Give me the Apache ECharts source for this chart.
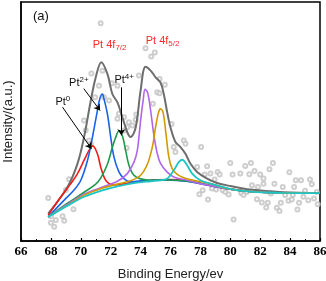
<!DOCTYPE html>
<html>
<head>
<meta charset="utf-8">
<script src="https://cdn.jsdelivr.net/npm/echarts@6/dist/echarts.min.js"></script>
<style>
  html, body { margin: 0; padding: 0; background: #fff; }
  #chart { width: 326px; height: 281px; }
</style>
</head>
<body>
<div id="chart"></div>
<script>
// binding energy (eV) vs intensity (a.u., arbitrary 0-100 scale)
const xTicks = [66, 68, 70, 72, 74, 76, 78, 80, 82, 84, 86];

const envelope = [
  [67.82, 11.5], [69.11, 22.6], [69.78, 32.4], [70.22, 43.5], [70.67, 58.8], [71.0, 68.5],
  [71.37, 74.8], [71.78, 69.9], [72.11, 61.5], [72.45, 58.0], [72.78, 51.8], [73.11, 45.5],
  [73.33, 43.5], [73.67, 47.5], [74.0, 62.9], [74.33, 72.9], [74.67, 71.3], [75.0, 68.5],
  [75.33, 66.3], [75.55, 61.5], [75.78, 53.8], [76.0, 47.5], [76.33, 41.4], [76.67, 39.3],
  [77.0, 36.5], [77.33, 32.4], [77.78, 28.9], [78.45, 26.1], [79.11, 24.3], [80.0, 23.0],
  [81.33, 21.5], [83.55, 20.4], [86.0, 20.1]
];

const pt0 = [
  [67.82, 10.8], [68.67, 18.5], [69.33, 24.0], [69.78, 28.2], [70.22, 33.8], [70.55, 37.9],
  [70.8, 39.8], [71.11, 36.5], [71.33, 31.0], [71.6, 26.1], [71.89, 24.0], [72.33, 23.5],
  [73.0, 24.0], [74.0, 24.9], [75.0, 25.6], [76.0, 25.7], [77.0, 25.3], [78.0, 24.2],
  [79.11, 22.7], [80.22, 21.5], [81.33, 20.7], [82.44, 20.3], [83.55, 20.1], [86.0, 20.0]
];

const pt2 = [
  [67.82, 10.1], [68.89, 17.1], [69.55, 21.3], [70.0, 25.4], [70.45, 33.8], [70.78, 43.5],
  [71.07, 53.2], [71.27, 59.5], [71.45, 61.5], [71.55, 59.5], [71.78, 53.2], [72.0, 43.5],
  [72.22, 35.1], [72.55, 28.9], [72.89, 26.1], [73.33, 24.7], [74.0, 25.2], [75.0, 25.4],
  [76.0, 25.4], [77.0, 25.0], [78.0, 24.0], [79.11, 22.6], [80.22, 21.5], [81.33, 20.7],
  [82.44, 20.3], [83.55, 20.1], [86.0, 20.0]
];

const pt4 = [
  [67.82, 10.1], [69.11, 15.8], [70.22, 20.4], [71.0, 23.8], [71.33, 26.3], [71.78, 32.1],
  [72.11, 39.2], [72.33, 43.3], [72.55, 46.0], [72.78, 44.0], [73.0, 37.9], [73.22, 31.7],
  [73.55, 27.5], [74.0, 26.0], [74.67, 25.4], [75.78, 25.5], [76.89, 25.2], [78.0, 24.1],
  [79.11, 22.6], [80.22, 21.5], [81.33, 20.7], [82.44, 20.3], [83.55, 20.1], [86.0, 20.0]
];

const pt52a = [
  [67.82, 10.1], [69.11, 15.4], [70.22, 19.6], [71.33, 22.3], [72.45, 25.0], [73.11, 28.2],
  [73.55, 32.9], [73.78, 37.9], [74.0, 50.4], [74.17, 58.8], [74.3, 63.5], [74.47, 62.1],
  [74.67, 54.6], [74.89, 44.2], [75.11, 36.7], [75.33, 32.5], [75.78, 28.8], [76.22, 26.8],
  [77.11, 25.4], [78.0, 24.0], [79.11, 22.6], [80.22, 21.5], [81.33, 20.7], [82.44, 20.3],
  [83.55, 20.1], [86.0, 20.0]
];

const pt52b = [
  [67.82, 10.1], [69.11, 15.0], [70.22, 19.2], [71.33, 21.9], [72.45, 23.8], [73.33, 25.2],
  [74.0, 27.5], [74.45, 32.1], [74.78, 39.2], [75.0, 47.5], [75.2, 53.8], [75.33, 55.3],
  [75.5, 53.8], [75.67, 46.3], [75.89, 35.1], [76.11, 30.3], [76.45, 27.9], [76.89, 26.5],
  [77.55, 25.4], [78.67, 24.0], [79.5, 22.4], [80.22, 21.5], [81.33, 20.7], [82.44, 20.3],
  [83.55, 20.1], [86.0, 20.0]
];

const pt52c = [
  [67.82, 10.0], [69.11, 14.8], [70.22, 18.5], [71.33, 21.0], [72.45, 22.9], [73.55, 24.2],
  [74.67, 25.0], [75.33, 25.4], [75.78, 26.1], [76.22, 29.6], [76.55, 33.0], [76.78, 34.0],
  [77.11, 31.7], [77.45, 28.2], [78.0, 25.4], [79.11, 23.3], [80.22, 21.5], [81.33, 20.7],
  [82.44, 20.3], [83.55, 20.1], [86.0, 20.0]
];

const raw = [
  [67.82, 18.0], [68.0, 10.4], [68.0, 7.6], [68.22, 6.0], [68.33, 8.75], [68.78, 10.4],
  [68.89, 8.5], [69.0, 21.3], [69.22, 25.8], [69.51, 13.3], [70.22, 50.4], [70.33, 46.3],
  [70.55, 42.1], [70.67, 40.7], [70.71, 70.1], [70.95, 60.1], [71.22, 65.0], [71.33, 91.1],
  [71.45, 71.25], [71.55, 60.1], [71.89, 58.75], [72.07, 66.0], [72.45, 65.0], [72.55, 53.2],
  [72.89, 51.8], [72.45, 51.1], [73.22, 49.7], [73.45, 48.3], [73.11, 47.6], [73.71, 52.9],
  [73.67, 50.7], [72.89, 46.25], [73.07, 38.9], [73.89, 69.2], [74.33, 80.7], [74.95, 78.9],
  [74.71, 77.2], [75.27, 67.8], [75.62, 65.4], [75.11, 62.2], [75.27, 61.8], [74.82, 57.4],
  [76.07, 49.0], [76.22, 39.3], [76.33, 37.2], [76.89, 42.1], [77.0, 40.7], [78.05, 39.3],
  [77.78, 31.0], [78.45, 31.25], [78.67, 28.2], [78.29, 27.8], [79.15, 28.9], [79.29, 27.8],
  [78.95, 25.7], [80.0, 32.6], [78.15, 21.25], [77.93, 19.6], [78.51, 17.4], [78.78, 22.0],
  [79.05, 21.5], [79.49, 21.25], [79.67, 20.5], [79.89, 19.5], [80.15, 27.8], [80.22, 9.0],
  [81.0, 31.4], [81.38, 32.6], [81.62, 29.3], [81.27, 27.9], [80.67, 28.2], [82.0, 27.8],
  [82.22, 26.1], [82.62, 30.0], [82.85, 32.6], [82.95, 24.0], [83.95, 28.75], [84.38, 25.4],
  [84.73, 25.4], [85.33, 25.7], [85.45, 23.75], [84.27, 22.6], [83.51, 22.6], [85.0, 21.0],
  [80.73, 20.1], [80.89, 19.2], [81.11, 20.5], [81.45, 23.3], [81.85, 22.6], [82.22, 24.0],
  [82.71, 19.9], [83.67, 19.2], [84.18, 19.2], [81.78, 17.5], [82.11, 16.1], [82.51, 16.0],
  [82.4, 14.0], [83.11, 13.9], [83.29, 12.6], [83.38, 16.0], [83.89, 16.8], [84.11, 17.4],
  [84.6, 16.0], [84.49, 13.2], [84.89, 18.5], [85.22, 17.1], [85.6, 17.8], [85.78, 20.5],
  [85.85, 15.4]
];

// annotation anchors (data coords)
const arrows = [
  [[68.78, 56.0], [70.71, 38.6]],
  [[70.2, 63.75], [71.29, 54.6]],
  [[72.71, 64.3], [72.71, 44.2]]
];
const labels = [
  { coord: [71.93, 82.0], text: 'Pt 4f{sub|7/2}', color: '#ff2a2a' },
  { coord: [75.47, 83.4], text: 'Pt 4f{sub|5/2}', color: '#ff2a2a' },
  { coord: [69.87, 65.8], text: 'Pt{sup|2+}', color: '#111' },
  { coord: [72.9, 67.1], text: 'Pt{sup|4+}', color: '#111' },
  { coord: [68.8, 57.9], text: 'Pt{sup|0}', color: '#111' }
];

const chart = echarts.init(document.getElementById('chart'), null, { renderer: 'canvas' });

const lineSeries = (name, data, color, width) => ({
  name,
  type: 'line',
  data,
  smooth: 0.35,
  symbol: 'none',
  lineStyle: { color, width },
  z: 3
});

chart.setOption({
  animation: false,
  title: {
    text: '(a)',
    left: 28,
    top: 5,
    textStyle: { fontFamily: 'Liberation Sans', fontSize: 13, fontWeight: 'normal', color: '#111' }
  },
  grid: {
    left: 21, right: 6, top: 2, bottom: 40,
    outerBoundsMode: 'none',
    containLabel: false,
    show: true, borderColor: '#000', borderWidth: 1.5
  },
  xAxis: {
    type: 'value',
    min: 66, max: 86, interval: 2,
    name: 'Binding Energy/ev',
    nameLocation: 'middle',
    nameGap: 27,
    nameTextStyle: { fontFamily: 'Liberation Sans', fontSize: 13, color: '#222' },
    axisLine: { show: true, lineStyle: { color: '#000', width: 1.5 } },
    axisTick: { show: true, inside: true, length: 3, lineStyle: { color: '#000', width: 1.2 } },
    minorTick: { show: true, splitNumber: 2, length: 2, lineStyle: { color: '#000', width: 1 } },
    axisLabel: {
      fontFamily: 'Liberation Serif', fontWeight: 'bold', fontSize: 13, color: '#000', margin: 4,
      formatter: v => xTicks.includes(v) ? String(v) : ''
    },
    splitLine: { show: false }
  },
  yAxis: {
    type: 'value',
    min: 0, max: 100,
    name: 'Intensity/(a.u.)',
    nameLocation: 'middle',
    nameGap: 6,
    nameTextStyle: { fontFamily: 'Liberation Sans', fontSize: 13, color: '#222' },
    axisLine: { show: true, lineStyle: { color: '#000', width: 1.5 } },
    axisTick: { show: false },
    axisLabel: { show: false },
    splitLine: { show: false }
  },
  series: [
    {
      name: 'raw',
      type: 'scatter',
      data: raw,
      symbol: 'emptyCircle',
      symbolSize: 4,
      itemStyle: { color: '#c2c2c2', borderWidth: 0.9 },
      z: 2,
      markLine: {
        silent: true,
        symbol: ['none', 'arrow'],
        symbolSize: 6,
        label: { show: false },
        lineStyle: { color: '#000', width: 1, type: 'solid' },
        data: arrows.map(a => [{ coord: a[0] }, { coord: a[1] }])
      },
      markPoint: {
        silent: true,
        symbolSize: 1,
        itemStyle: { color: 'rgba(0,0,0,0)', borderWidth: 0 },
        data: labels.map(l => ({
          coord: l.coord,
          label: {
            show: true,
            position: 'inside',
            formatter: l.text,
            color: l.color,
            fontFamily: 'Liberation Sans',
            fontSize: 11,
            rich: {
              sub: { fontFamily: 'Liberation Sans', fontSize: 8, color: l.color, padding: [6, 0, 0, 0] },
              sup: { fontFamily: 'Liberation Sans', fontSize: 8, color: l.color, padding: [0, 0, 6, 0] }
            }
          }
        }))
      }
    },
    lineSeries('Envelope', envelope, '#6e6e6e', 2),
    lineSeries('Pt0', pt0, '#f21c1c', 1.6),
    lineSeries('Pt2+', pt2, '#1a62e6', 1.6),
    lineSeries('Pt4+', pt4, '#1f9a4c', 1.6),
    lineSeries('Pt 4f5/2 a', pt52a, '#b066ea', 1.6),
    lineSeries('Pt 4f5/2 b', pt52b, '#d29a00', 1.6),
    lineSeries('Pt 4f5/2 c', pt52c, '#1cc6c6', 1.8)
  ]
});
</script>
</body>
</html>
